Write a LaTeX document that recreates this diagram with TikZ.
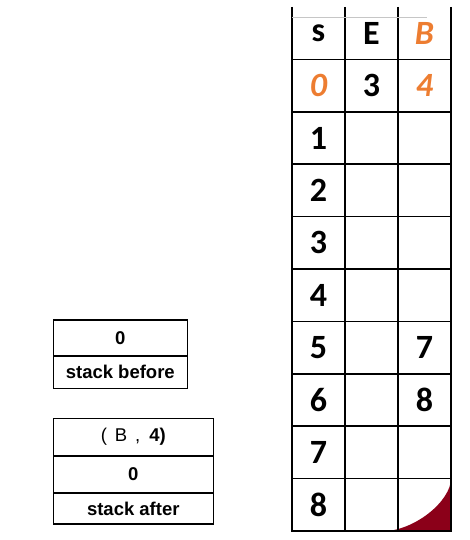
\documentclass[tikz,border=0pt]{standalone}
\usepackage{fontspec}
\setmainfont{Liberation Sans}
\newfontfamily\calfont{Carlito}
\usetikzlibrary{positioning,backgrounds}
\definecolor{tblorange}{HTML}{ED7D31}
\definecolor{cornerred}{HTML}{8B0019}

\begin{document}
\begin{tikzpicture}[x=1pt,y=-1pt,
cell/.style={draw=black,
  line width=1.6pt,
  node distance=0pt,
  outer sep=0pt,inner sep=0pt,
  minimum width=53pt,
  minimum height=52.4pt,
  font=\calfont\bfseries\fontsize{34}{34}\selectfont
},
head/.style={cell,draw=none},
hot/.style={text=tblorange,
  font=\calfont\bfseries\itshape\fontsize{34}{34}\selectfont},
slot/.style={draw=black,
  line width=1.6pt,
  node distance=0pt,
  outer sep=0pt,inner sep=0pt,
  font=\bfseries\fontsize{18.5}{18.5}\selectfont
}]

\useasboundingbox (0,0) rectangle (470,540);

% table
\node (hs) [head] at (318.5,33.2) {s};
\node (he) [head, right= of hs] {E};
\node (hb) [head, hot, right= of he] {B};
\node (s0) [cell, hot, below= of hs] {0};
\node (e0) [cell, right= of s0] {3};
\node (b0) [cell, hot, right= of e0] {4};
\foreach \r/\v [evaluate=\r as \p using int(\r-1)] in {1/,2/,3/,4/,5/7,6/8,7/,8/} {
  \node (s\r) [cell, below= of s\p] {\r};
  \node (e\r) [cell, right= of s\r] {};
  \node (b\r) [cell, right= of e\r] {\v};
}

\draw [line width=1.6pt] (hs.north west) to (hs.south west);
\draw [line width=1.6pt] (he.north west) to (he.south west);
\draw [line width=1.6pt] (hb.north west) to (hb.south west);
\draw [line width=1.6pt] (hb.north east) to (hb.south east);
\draw [gray!45,line width=1.2pt] ([yshift=-10.3pt]hs.north west) to ([xshift=-24pt,yshift=-10.3pt]hb.north east);

\begin{pgfonlayer}{background}
\fill [cornerred] ([xshift=-18pt,yshift=-0.6pt]b8.south west)
  .. controls ([xshift=17pt,yshift=-0.6pt]b8.south west) and ([yshift=-22pt]b8.north east) .. (b8.north east)
  -- ([yshift=-0.6pt]b8.south east) -- cycle;
\end{pgfonlayer}

% stacks
\node (pre) [slot, minimum width=134pt, minimum height=36pt] at (120.3,338) {0};
\node (prelab) [slot, minimum width=134pt, minimum height=32.3pt, below= of pre] {stack before};
\node (top) [slot, minimum width=160pt, minimum height=37.7pt] at (133.3,437.2) {\mdseries(\hspace{8pt}B\hspace{8pt},\hspace{9pt}\bfseries 4)};
\node (mid) [slot, minimum width=160pt, minimum height=36.7pt, below= of top] {0};
\node (postlab) [slot, minimum width=160pt, minimum height=31.3pt, below= of mid] {stack after};

\end{tikzpicture}
\end{document}
